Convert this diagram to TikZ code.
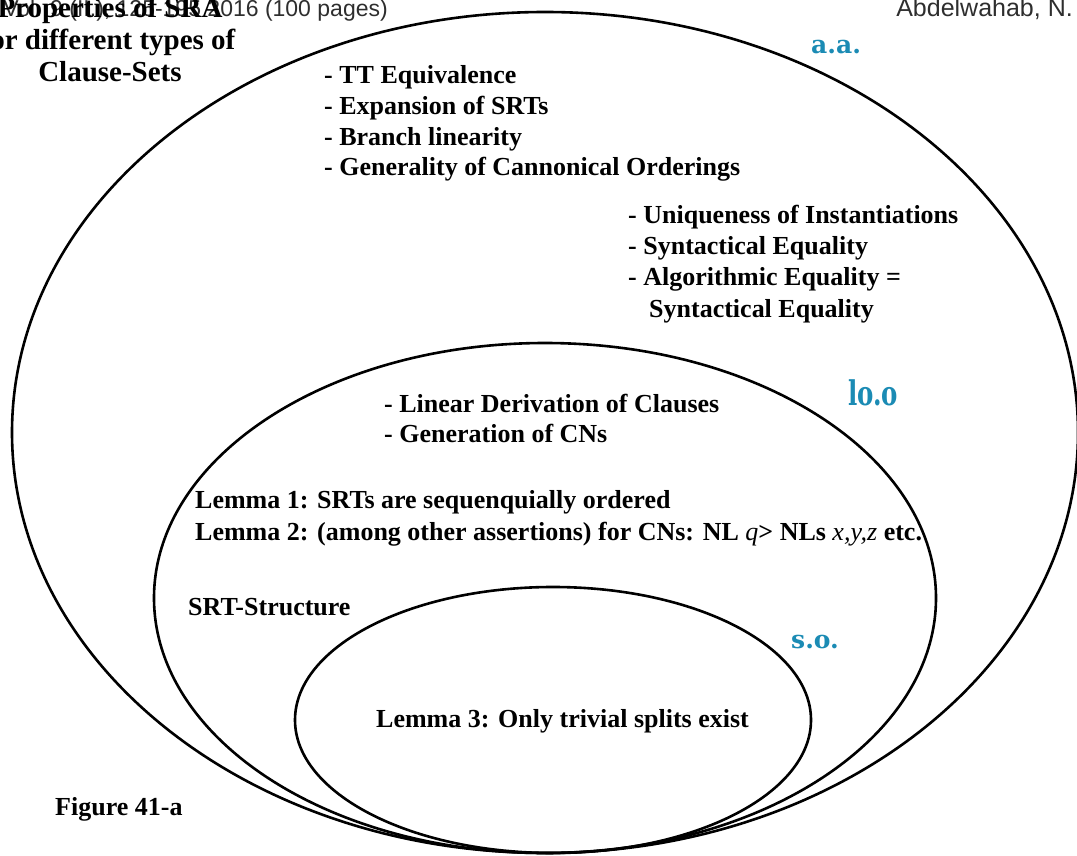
\documentclass[tikz,border=0pt]{standalone}
\usepackage{fontspec}
\setmainfont{Liberation Serif}
\newfontfamily\headfont{Liberation Sans}
\newfontfamily\tagfont{DejaVu Serif}
\usepackage{xcolor}
\usetikzlibrary{positioning}
\definecolor{tagblue}{HTML}{1B8BB4}
\definecolor{headgray}{HTML}{2E2E2E}

\begin{document}
\begin{tikzpicture}[
  x=1pt, y=-1pt,
  ring/.style={draw, line width=2.6pt},
  txt/.style={anchor=base west, inner sep=0pt, font=\bfseries\fontsize{26}{31}\selectfont},
  ttl/.style={anchor=base, inner sep=0pt, font=\bfseries\fontsize{29}{32}\selectfont},
  tag/.style={anchor=base west, inner sep=0pt, text=tagblue,
              font=\tagfont\bfseries\fontsize{25}{25}\selectfont},
  hdr/.style={anchor=base east, inner sep=0pt, text=headgray,
              font=\headfont\fontsize{24}{24}\selectfont}
]
\useasboundingbox (0,0) rectangle (1077,856);

%% --- nested regions (a.a. > lo.o > s.o.) ---
\draw[ring] (545,432.5) ellipse [x radius=533pt, y radius=420.5pt];
\draw[ring] (545,598)   ellipse [x radius=391pt, y radius=255pt];
\draw[ring] (553,720)   ellipse [x radius=258pt, y radius=133pt];

%% --- running head ---
\node[hdr, font=\headfont\fontsize{23}{23}\selectfont] (jrnl) at (388,17)
  {Vol. 9 (II.), 125-195 2016 (100 pages)};
\node[hdr, font=\headfont\fontsize{25}{25}\selectfont] (auth) at (1073,17) {Abdelwahab, N.};

%% --- title ---
\node[ttl] (ttl1) at (110,18) {Properties of SRA};
\node[ttl] (ttl2) at (108,50) {for different types of};
\node[ttl] (ttl3) at (110,82) {Clause-Sets};

%% --- outer region: a.a. ---
\node[tag] (aa) at (811,54) {a.a.};
\node[txt] (tteq) at (324,84)  {- TT Equivalence};
\node[txt] (expn) at (324,115) {- Expansion of SRTs};
\node[txt] (brln) at (324,146) {- Branch linearity};
\node[txt] (genc) at (324,176) {- Generality of Cannonical Orderings};

\node[txt] (uniq) at (628,223) {- Uniqueness of Instantiations};
\node[txt] (syne) at (628,254) {- Syntactical Equality};
\node[txt] (alge) at (628,285) {- Algorithmic Equality =};
\node[txt] (alg2) at (649,317) {Syntactical Equality};

%% --- middle region: lo.o ---
\node[tag, font=\tagfont\bfseries\fontsize{34}{34}\selectfont] (loo) at (848,405)
  {\scalebox{0.72}[1]{lo.o}};
\node[txt] (lind) at (384,412) {- Linear Derivation of Clauses};
\node[txt] (gcns) at (384,442) {- Generation of CNs};
\node[txt] (lem1) at (195,508) {Lemma 1: SRTs are sequenquially ordered};
\node[txt] (lem2) at (195,540)
  {Lemma 2: (among other assertions) for CNs: NL {\mdseries\itshape q}> NLs {\mdseries\itshape x,y,z} etc.};
\node[txt] (srts) at (188,615) {SRT-Structure};

%% --- inner region: s.o. ---
\node[tag] (so) at (791,648) {s.o.};
\node[txt] (lem3) at (376,727) {Lemma 3: Only trivial splits exist};

\node[txt] (figl) at (55,815) {Figure 41-a};

\end{tikzpicture}
\end{document}
